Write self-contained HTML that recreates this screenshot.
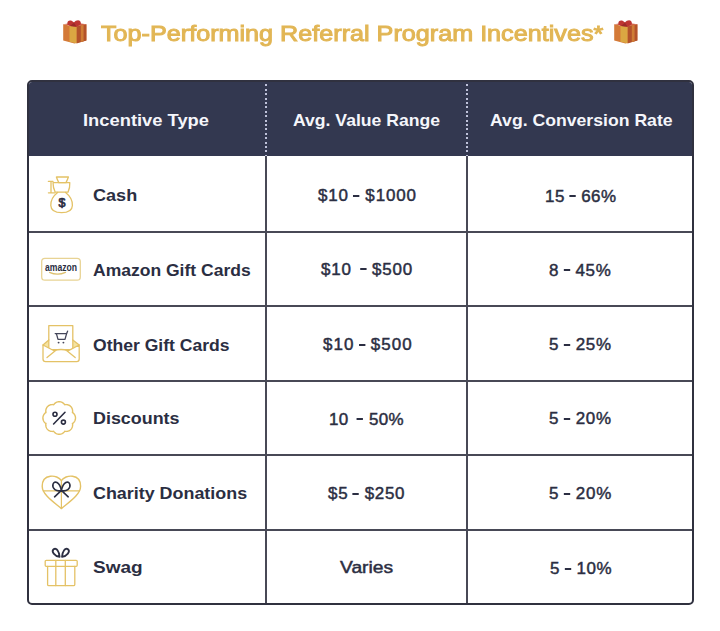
<!DOCTYPE html>
<html><head><meta charset="utf-8">
<style>
html,body{margin:0;padding:0;background:#fff;}
body{width:720px;height:631px;position:relative;overflow:hidden;font-family:"Liberation Sans",sans-serif;}
.t{position:absolute;white-space:nowrap;line-height:1;transform-origin:0 0;}
#tbl{position:absolute;left:27px;top:80px;width:663px;height:521px;border:2px solid #30313f;border-radius:5px;overflow:hidden;background:#fff;}
#hdr{position:absolute;left:0;top:-2px;width:100%;height:76px;background:#333850;}
.vl{position:absolute;top:74px;width:2px;height:460px;background:#484956;}
.hl{position:absolute;left:0;width:100%;height:2px;background:#484956;}
.dl{position:absolute;top:-2px;width:2px;height:76px;background:repeating-linear-gradient(to bottom,#bfc2da 0 2px,rgba(0,0,0,0) 2px 4.4px);}
svg.ov{position:absolute;left:0;top:0;overflow:visible;}
</style></head><body>
<div id="tbl">
  <div id="hdr"></div>
  <div class="dl" style="left:236px"></div>
  <div class="dl" style="left:437px"></div>
  <div class="vl" style="left:236px"></div>
  <div class="vl" style="left:437px"></div>
  <div class="hl" style="top:149px"></div>
  <div class="hl" style="top:223px"></div>
  <div class="hl" style="top:298px"></div>
  <div class="hl" style="top:372px"></div>
  <div class="hl" style="top:447px"></div>
</div>
<svg class="ov" width="720" height="631" viewBox="0 0 720 631">
<defs>
 <filter id="soft" x="-20%" y="-20%" width="140%" height="140%"><feGaussianBlur stdDeviation="0.45"/></filter>
</defs>
<g filter="url(#soft)">
<g>
  <path d="M63.2,24.2 L74,26.4 L86.4,24.2 L86.4,40.6 L74.5,43.5 L63.2,40.6 Z" fill="#d47a38"/>
  <path d="M76.5,26 L86.4,24.2 L86.4,40.6 L76.5,43.4 Z" fill="#b3522c"/>
  <path d="M69.5,25.6 L76.5,26.6 L76.5,43.3 L69.5,41.8 Z" fill="#dba742"/>
  <path d="M80.8,25.3 L83.6,24.8 L83.6,41.2 L80.8,42 Z" fill="#cf7d36"/>
  <path d="M63.2,24.2 L74,22.6 L86.4,24.2 L76.5,26.6 Z" fill="#d2664a"/>
  <path d="M67.5,24.5 C66.5,20 71,19.2 74,22.5 C76.5,19.2 81.5,19.5 80.8,24.2 L76.5,26.8 L70,26 Z" fill="#bd3532"/>
  <path d="M70,26 L74,22.8 L76.5,26.8 Z" fill="#9c2a2a"/>
</g>
<g transform="translate(551,0)">
  <path d="M63.2,24.2 L74,26.4 L86.4,24.2 L86.4,40.6 L74.5,43.5 L63.2,40.6 Z" fill="#d47a38"/>
  <path d="M76.5,26 L86.4,24.2 L86.4,40.6 L76.5,43.4 Z" fill="#b3522c"/>
  <path d="M69.5,25.6 L76.5,26.6 L76.5,43.3 L69.5,41.8 Z" fill="#dba742"/>
  <path d="M80.8,25.3 L83.6,24.8 L83.6,41.2 L80.8,42 Z" fill="#cf7d36"/>
  <path d="M63.2,24.2 L74,22.6 L86.4,24.2 L76.5,26.6 Z" fill="#d2664a"/>
  <path d="M67.5,24.5 C66.5,20 71,19.2 74,22.5 C76.5,19.2 81.5,19.5 80.8,24.2 L76.5,26.8 L70,26 Z" fill="#bd3532"/>
  <path d="M70,26 L74,22.8 L76.5,26.8 Z" fill="#9c2a2a"/>
</g>
</g>

<g fill="none" stroke="#e4c266" stroke-width="1.3" stroke-linejoin="round" stroke-linecap="round">
 <!-- cash bag -->
 <path d="M56.4,177 H68.4 C67.6,179.5 66.8,181 66,182.6 H58.8 C58,181 57.2,179.5 56.4,177 Z"/>
 <path d="M53,182.6 H69.8 C70,186 69.2,189.5 68,192.2 H55.2 C53.8,189.5 53,186 53,182.6 Z"/>
 <path d="M48.4,181.4 H53 M51,181.4 V192.8 M48.4,192.8 H55"/>
 <path d="M57.6,192.4 C53,196 50.6,201 50.8,205.5 C51,210.5 55,212.7 61.6,212.7 C68.2,212.7 72.2,210.5 72.4,205.5 C72.6,201 70.2,196 65.6,192.4"/>
 <!-- amazon -->
 <rect x="41.7" y="258.4" width="38.6" height="21.8" rx="3.2" stroke="#e8d394" stroke-width="1.3"/>
 <path d="M49.5,272.4 Q57.5,276 65.5,272.4" stroke="#dcc070" stroke-width="1.2"/>
 <!-- envelope -->
 <path d="M43,345 L48.8,340 V348 Z M79.2,345 L72.8,340 V348 Z" fill="#f5e3a0" stroke="none"/>
 <rect x="48.8" y="325.6" width="24" height="24" fill="#fff"/>
 <path d="M43,345 L48.8,340 M79.2,345 L72.8,340"/>
 <path d="M43,345 L54,350.8 Q61,348.2 68,350.8 L79.2,345 V359 Q79.2,361.6 76.6,361.6 H45.6 Q43,361.6 43,359 Z" fill="#fff"/>
 <path d="M47,357.6 L55,351 M75.2,357.6 L67.2,351"/>
 <!-- badge -->
 <path d="M75.50,418.00 L75.49,418.43 L75.44,418.85 L75.37,419.27 L75.27,419.69 L75.15,420.10 L74.99,420.50 L74.81,420.89 L74.61,421.27 L74.38,421.64 L74.12,422.00 L73.84,422.34 L73.54,422.66 L73.22,422.96 L72.86,423.24 L72.41,423.47 L72.56,423.95 L72.62,424.40 L72.64,424.85 L72.62,425.29 L72.58,425.72 L72.51,426.15 L72.41,426.58 L72.28,426.99 L72.13,427.40 L71.96,427.79 L71.76,428.17 L71.53,428.53 L71.29,428.88 L71.02,429.21 L70.73,429.53 L70.41,429.82 L70.08,430.09 L69.73,430.33 L69.37,430.56 L68.99,430.76 L68.60,430.93 L68.19,431.08 L67.78,431.21 L67.35,431.31 L66.92,431.38 L66.49,431.42 L66.05,431.44 L65.60,431.42 L65.15,431.36 L64.67,431.21 L64.44,431.66 L64.16,432.02 L63.86,432.34 L63.54,432.64 L63.20,432.92 L62.84,433.18 L62.47,433.41 L62.09,433.61 L61.70,433.79 L61.30,433.95 L60.89,434.07 L60.47,434.17 L60.05,434.24 L59.63,434.29 L59.20,434.30 L58.77,434.29 L58.35,434.24 L57.93,434.17 L57.51,434.07 L57.10,433.95 L56.70,433.79 L56.31,433.61 L55.93,433.41 L55.56,433.18 L55.20,432.92 L54.86,432.64 L54.54,432.34 L54.24,432.02 L53.96,431.66 L53.73,431.21 L53.25,431.36 L52.80,431.42 L52.35,431.44 L51.91,431.42 L51.48,431.38 L51.05,431.31 L50.62,431.21 L50.21,431.08 L49.80,430.93 L49.41,430.76 L49.03,430.56 L48.67,430.33 L48.32,430.09 L47.99,429.82 L47.67,429.53 L47.38,429.21 L47.11,428.88 L46.87,428.53 L46.64,428.17 L46.44,427.79 L46.27,427.40 L46.12,426.99 L45.99,426.58 L45.89,426.15 L45.82,425.72 L45.78,425.29 L45.76,424.85 L45.78,424.40 L45.84,423.95 L45.99,423.47 L45.54,423.24 L45.18,422.96 L44.86,422.66 L44.56,422.34 L44.28,422.00 L44.02,421.64 L43.79,421.27 L43.59,420.89 L43.41,420.50 L43.25,420.10 L43.13,419.69 L43.03,419.27 L42.96,418.85 L42.91,418.43 L42.90,418.00 L42.91,417.57 L42.96,417.15 L43.03,416.73 L43.13,416.31 L43.25,415.90 L43.41,415.50 L43.59,415.11 L43.79,414.73 L44.02,414.36 L44.28,414.00 L44.56,413.66 L44.86,413.34 L45.18,413.04 L45.54,412.76 L45.99,412.53 L45.84,412.05 L45.78,411.60 L45.76,411.15 L45.78,410.71 L45.82,410.28 L45.89,409.85 L45.99,409.42 L46.12,409.01 L46.27,408.60 L46.44,408.21 L46.64,407.83 L46.87,407.47 L47.11,407.12 L47.38,406.79 L47.67,406.47 L47.99,406.18 L48.32,405.91 L48.67,405.67 L49.03,405.44 L49.41,405.24 L49.80,405.07 L50.21,404.92 L50.62,404.79 L51.05,404.69 L51.48,404.62 L51.91,404.58 L52.35,404.56 L52.80,404.58 L53.25,404.64 L53.73,404.79 L53.96,404.34 L54.24,403.98 L54.54,403.66 L54.86,403.36 L55.20,403.08 L55.56,402.82 L55.93,402.59 L56.31,402.39 L56.70,402.21 L57.10,402.05 L57.51,401.93 L57.93,401.83 L58.35,401.76 L58.77,401.71 L59.20,401.70 L59.63,401.71 L60.05,401.76 L60.47,401.83 L60.89,401.93 L61.30,402.05 L61.70,402.21 L62.09,402.39 L62.47,402.59 L62.84,402.82 L63.20,403.08 L63.54,403.36 L63.86,403.66 L64.16,403.98 L64.44,404.34 L64.67,404.79 L65.15,404.64 L65.60,404.58 L66.05,404.56 L66.49,404.58 L66.92,404.62 L67.35,404.69 L67.78,404.79 L68.19,404.92 L68.60,405.07 L68.99,405.24 L69.37,405.44 L69.73,405.67 L70.08,405.91 L70.41,406.18 L70.73,406.47 L71.02,406.79 L71.29,407.12 L71.53,407.47 L71.76,407.83 L71.96,408.21 L72.13,408.60 L72.28,409.01 L72.41,409.42 L72.51,409.85 L72.58,410.28 L72.62,410.71 L72.64,411.15 L72.62,411.60 L72.56,412.05 L72.41,412.53 L72.86,412.76 L73.22,413.04 L73.54,413.34 L73.84,413.66 L74.12,414.00 L74.38,414.36 L74.61,414.73 L74.81,415.11 L74.99,415.50 L75.15,415.90 L75.27,416.31 L75.37,416.73 L75.44,417.15 L75.49,417.57 L75.50,418.00Z" stroke-width="1.4"/>
 <!-- heart -->
 <path d="M61.4,480.6 C57.4,474.2 42.2,473.4 42.2,486.2 C42.2,495 55,503 61.4,508.6 C67.8,503 80.6,495 80.6,486.2 C80.6,473.4 65.4,474.2 61.4,480.6 Z" stroke-width="1.4"/>
 <path d="M43.2,490.8 H79.6 M61.4,480.6 V508" stroke-width="1.2"/>
 <!-- swag -->
 <rect x="45.2" y="560.3" width="32" height="6" rx="1"/>
 <path d="M47.6,566.3 V584.4 Q47.6,585.6 48.8,585.6 H73.6 Q74.8,585.6 74.8,584.4 V566.3"/>
 <path d="M55.8,560.3 V585.6 M65.3,560.3 V585.6"/>
</g>
<g fill="none" stroke="#2b2e42" stroke-width="1.6" stroke-linejoin="round" stroke-linecap="round">
 <!-- cart -->
 <g stroke="#44465a" stroke-width="1.3">
 <path d="M55.2,333.6 H56.4 L58,339.4 H65 L66.6,333.6 L67.6,331.2"/>
 <path d="M56.4,333.6 H66.6"/>
 </g>
 <!-- percent -->
 <circle cx="55" cy="414.2" r="2"/>
 <circle cx="63.4" cy="422.1" r="2"/>
 <path d="M53.6,424 L65,412.3"/>
 <!-- bow heart -->
 <path d="M61.4,490.4 C56.5,492 51.8,488.5 53,484.3 C54.3,480.4 59.5,481.5 61.4,490.4 Z"/>
 <path d="M61.4,490.4 C66.3,492 71,488.5 69.8,484.3 C68.5,480.4 63.3,481.5 61.4,490.4 Z"/>
 <path d="M61.4,490.4 L54.6,496.8 M61.4,490.4 L68.2,496.8"/>
 <!-- swag bow -->
 <path d="M59.6,556.8 C54.5,556 51,551.5 53.6,549.3 C56.4,547.2 59.2,551.5 59.6,556.8 Z" stroke-width="1.8"/>
 <path d="M62,556.8 C67.1,556 70.6,551.5 68,549.3 C65.2,547.2 62.4,551.5 62,556.8 Z" stroke-width="1.8"/>
</g>
<g fill="#2b2e42">
 <circle cx="58.6" cy="342.6" r="0.95" fill="#44465a"/>
 <circle cx="63.4" cy="342.6" r="0.95" fill="#44465a"/>
 <text x="62" y="206.8" font-family="Liberation Sans" font-size="12.5" stroke="#2b2e42" stroke-width="0.7" text-anchor="middle">$</text>
 <text x="45" y="270.8" font-family="Liberation Sans" font-weight="bold" font-size="10.5" textLength="32" lengthAdjust="spacingAndGlyphs">amazon</text>
</g>
</svg>
<div class="t" style="left:101.20px;top:23.10px;color:#e2b655;transform:scaleX(1.1243);font-family:'Liberation Sans';font-weight:normal;font-size:22.4px;line-height:1;white-space:nowrap;-webkit-text-stroke:1.0px currentColor;letter-spacing:0px">Top-Performing Referral Program Incentives*</div>
<div class="t" style="left:83.22px;top:111.50px;color:#f5f6fb;transform:scaleX(1.0783);font-family:'Liberation Sans';font-weight:bold;font-size:17px;line-height:1;white-space:nowrap;-webkit-text-stroke:0px currentColor;letter-spacing:0px">Incentive Type</div>
<div class="t" style="left:293.16px;top:111.50px;color:#f5f6fb;transform:scaleX(1.0350);font-family:'Liberation Sans';font-weight:bold;font-size:17px;line-height:1;white-space:nowrap;-webkit-text-stroke:0px currentColor;letter-spacing:0px">Avg. Value Range</div>
<div class="t" style="left:489.56px;top:111.50px;color:#f5f6fb;transform:scaleX(1.0374);font-family:'Liberation Sans';font-weight:bold;font-size:17px;line-height:1;white-space:nowrap;-webkit-text-stroke:0px currentColor;letter-spacing:0px">Avg. Conversion Rate</div>
<div class="t" style="left:93.20px;top:187.10px;color:#2b2e42;transform:scaleX(1.1026);font-family:'Liberation Sans';font-weight:bold;font-size:16.4px;line-height:1;white-space:nowrap;-webkit-text-stroke:0px currentColor;letter-spacing:0px">Cash</div>
<div class="t" style="left:93.43px;top:261.60px;color:#2b2e42;transform:scaleX(1.0685);font-family:'Liberation Sans';font-weight:bold;font-size:16.4px;line-height:1;white-space:nowrap;-webkit-text-stroke:0px currentColor;letter-spacing:0px">Amazon Gift Cards</div>
<div class="t" style="left:93.43px;top:336.60px;color:#2b2e42;transform:scaleX(1.0714);font-family:'Liberation Sans';font-weight:bold;font-size:16.4px;line-height:1;white-space:nowrap;-webkit-text-stroke:0px currentColor;letter-spacing:0px">Other Gift Cards</div>
<div class="t" style="left:93.11px;top:410.40px;color:#2b2e42;transform:scaleX(1.0922);font-family:'Liberation Sans';font-weight:bold;font-size:16.4px;line-height:1;white-space:nowrap;-webkit-text-stroke:0px currentColor;letter-spacing:0px">Discounts</div>
<div class="t" style="left:93.41px;top:485.40px;color:#2b2e42;transform:scaleX(1.0917);font-family:'Liberation Sans';font-weight:bold;font-size:16.4px;line-height:1;white-space:nowrap;-webkit-text-stroke:0px currentColor;letter-spacing:0px">Charity Donations</div>
<div class="t" style="left:93.04px;top:559.40px;color:#2b2e42;transform:scaleX(1.1585);font-family:'Liberation Sans';font-weight:bold;font-size:16.4px;line-height:1;white-space:nowrap;-webkit-text-stroke:0px currentColor;letter-spacing:0px">Swag</div>
<div class="t" style="left:318.00px;top:188.10px;color:#2b2e42;transform:scaleX(1.0600);font-family:'Liberation Sans';font-weight:normal;font-size:16px;line-height:1;white-space:nowrap;-webkit-text-stroke:0.45px currentColor;letter-spacing:0.8274932614555256px">$10<span style="display:inline-block;width:6.1px;height:2px;background:currentColor;vertical-align:4.3px;margin:0 5.2px 0 4.2px;-webkit-text-stroke:0"></span>$1000</div>
<div class="t" style="left:320.80px;top:261.60px;color:#2b2e42;transform:scaleX(1.0600);font-family:'Liberation Sans';font-weight:normal;font-size:16px;line-height:1;white-space:nowrap;-webkit-text-stroke:0.45px currentColor;letter-spacing:0.7924528301886747px">$10<span style="display:inline-block;width:6.1px;height:2px;background:currentColor;vertical-align:4.3px;margin:0 5.2px 0 7.8px;-webkit-text-stroke:0"></span>$500</div>
<div class="t" style="left:322.50px;top:336.90px;color:#2b2e42;transform:scaleX(1.0600);font-family:'Liberation Sans';font-weight:normal;font-size:16px;line-height:1;white-space:nowrap;-webkit-text-stroke:0.45px currentColor;letter-spacing:0.9716981132075494px">$10<span style="display:inline-block;width:6.1px;height:2px;background:currentColor;vertical-align:4.3px;margin:0 5.2px 0 4.2px;-webkit-text-stroke:0"></span>$500</div>
<div class="t" style="left:328.94px;top:411.60px;color:#2b2e42;transform:scaleX(1.0600);font-family:'Liberation Sans';font-weight:normal;font-size:16px;line-height:1;white-space:nowrap;-webkit-text-stroke:0.45px currentColor;letter-spacing:0.3820754716981085px">10<span style="display:inline-block;width:6.1px;height:2px;background:currentColor;vertical-align:4.3px;margin:0 5.2px 0 7.8px;-webkit-text-stroke:0"></span>50%</div>
<div class="t" style="left:328.30px;top:485.80px;color:#2b2e42;transform:scaleX(1.0600);font-family:'Liberation Sans';font-weight:normal;font-size:16px;line-height:1;white-space:nowrap;-webkit-text-stroke:0.45px currentColor;letter-spacing:0.6716981132075432px">$5<span style="display:inline-block;width:6.1px;height:2px;background:currentColor;vertical-align:4.3px;margin:0 5.2px 0 4.2px;-webkit-text-stroke:0"></span>$250</div>
<div class="t" style="left:340.20px;top:560.30px;color:#2b2e42;transform:scaleX(1.2023);font-family:'Liberation Sans';font-weight:normal;font-size:16px;line-height:1;white-space:nowrap;-webkit-text-stroke:0.45px currentColor;letter-spacing:0px">Varies</div>
<div class="t" style="left:545.04px;top:188.50px;color:#2b2e42;transform:scaleX(1.0600);font-family:'Liberation Sans';font-weight:normal;font-size:16px;line-height:1;white-space:nowrap;-webkit-text-stroke:0.45px currentColor;letter-spacing:0.4386792452830015px">15<span style="display:inline-block;width:6.1px;height:2px;background:currentColor;vertical-align:4.3px;margin:0 5.2px 0 4.2px;-webkit-text-stroke:0"></span>66%</div>
<div class="t" style="left:549.44px;top:262.60px;color:#2b2e42;transform:scaleX(1.0600);font-family:'Liberation Sans';font-weight:normal;font-size:16px;line-height:1;white-space:nowrap;-webkit-text-stroke:0.45px currentColor;letter-spacing:0.6289308176100477px">8<span style="display:inline-block;width:6.1px;height:2px;background:currentColor;vertical-align:4.3px;margin:0 5.2px 0 4.2px;-webkit-text-stroke:0"></span>45%</div>
<div class="t" style="left:549.04px;top:336.90px;color:#2b2e42;transform:scaleX(1.0600);font-family:'Liberation Sans';font-weight:normal;font-size:16px;line-height:1;white-space:nowrap;-webkit-text-stroke:0.45px currentColor;letter-spacing:0.7547169811320534px">5<span style="display:inline-block;width:6.1px;height:2px;background:currentColor;vertical-align:4.3px;margin:0 5.2px 0 4.2px;-webkit-text-stroke:0"></span>25%</div>
<div class="t" style="left:549.04px;top:411.40px;color:#2b2e42;transform:scaleX(1.0600);font-family:'Liberation Sans';font-weight:normal;font-size:16px;line-height:1;white-space:nowrap;-webkit-text-stroke:0.45px currentColor;letter-spacing:0.7547169811320534px">5<span style="display:inline-block;width:6.1px;height:2px;background:currentColor;vertical-align:4.3px;margin:0 5.2px 0 4.2px;-webkit-text-stroke:0"></span>20%</div>
<div class="t" style="left:548.74px;top:485.90px;color:#2b2e42;transform:scaleX(1.0600);font-family:'Liberation Sans';font-weight:normal;font-size:16px;line-height:1;white-space:nowrap;-webkit-text-stroke:0.45px currentColor;letter-spacing:0.7861635220125981px">5<span style="display:inline-block;width:6.1px;height:2px;background:currentColor;vertical-align:4.3px;margin:0 5.2px 0 4.2px;-webkit-text-stroke:0"></span>20%</div>
<div class="t" style="left:549.54px;top:561.20px;color:#2b2e42;transform:scaleX(1.0600);font-family:'Liberation Sans';font-weight:normal;font-size:16px;line-height:1;white-space:nowrap;-webkit-text-stroke:0.45px currentColor;letter-spacing:0.5974842767295385px">5<span style="display:inline-block;width:6.1px;height:2px;background:currentColor;vertical-align:4.3px;margin:0 5.2px 0 4.2px;-webkit-text-stroke:0"></span>10%</div>
</body></html>
